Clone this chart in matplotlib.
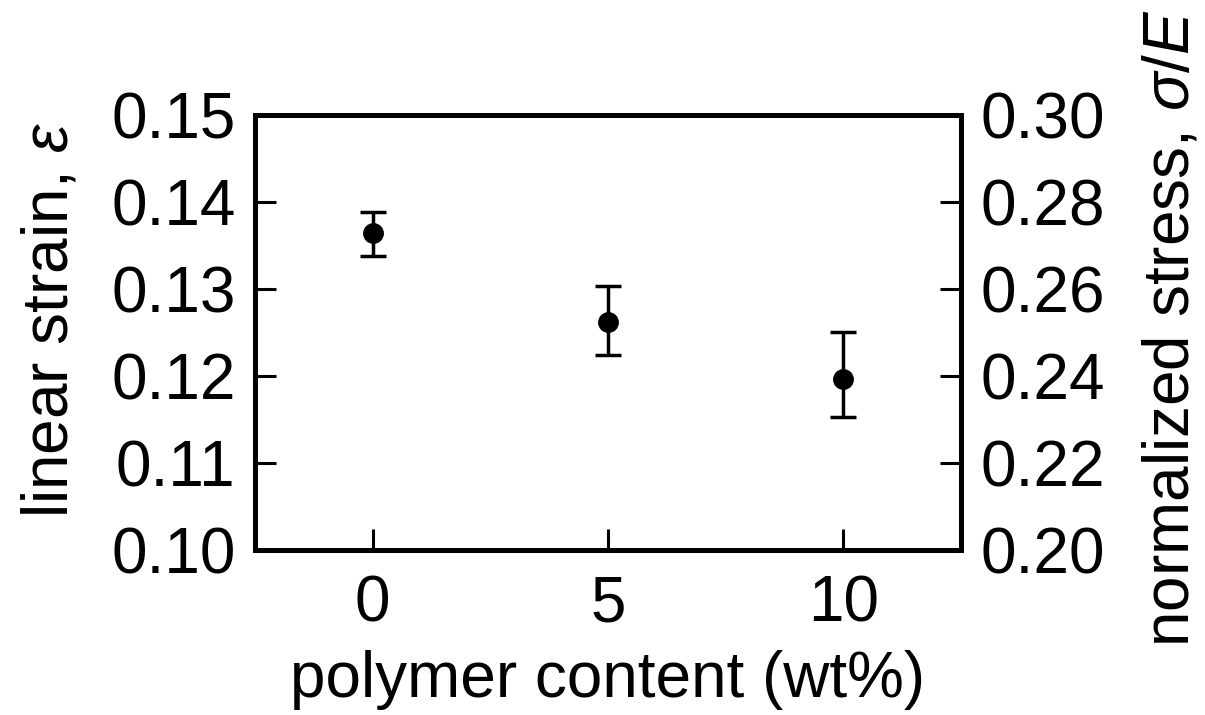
import matplotlib
matplotlib.use("Agg")
import matplotlib.pyplot as plt

plt.rcParams['font.family'] = ['Liberation Sans', 'DejaVu Sans']
plt.rcParams['mathtext.fontset'] = 'custom'
plt.rcParams['mathtext.it'] = 'Liberation Sans:italic'
plt.rcParams['mathtext.rm'] = 'Liberation Sans'

# data
polymer_content = [0, 5, 10]
strain = [0.1364, 0.1262, 0.1197]
err_low = [0.0026, 0.0038, 0.0044]
err_high = [0.0025, 0.0041, 0.0053]
x_ticks = [0, 5, 10]
left_ticks = [0.10, 0.11, 0.12, 0.13, 0.14, 0.15]
right_ticks = [0.20, 0.22, 0.24, 0.26, 0.28, 0.30]

fig = plt.figure(figsize=(12.05, 7.15), dpi=100)
ax = fig.add_axes([0.2116, 0.231, 0.586, 0.608])

ax.errorbar(polymer_content, strain, yerr=[err_low, err_high], fmt='o',
            color='black', markersize=14, elinewidth=2.5, capsize=9.5,
            capthick=2.5)

ax.set_xlim(-2.5, 12.5)
ax.set_ylim(0.10, 0.15)
ax.set_xticks(x_ticks)
ax.set_xticklabels([str(v) for v in x_ticks])
ax.set_yticks(left_ticks)
ax.set_yticklabels([f"{v:.2f}" for v in left_ticks])

for s in ax.spines.values():
    s.set_linewidth(3.6)

ax.tick_params(axis='both', direction='in', labelsize=46, width=2.2,
               length=15, pad=14)
ax.tick_params(axis='x', pad=18, top=False)

ax2 = ax.twinx()
ax2.set_ylim(0.20, 0.30)
ax2.set_yticks(right_ticks)
ax2.set_yticklabels([f"{v:.2f}" for v in right_ticks])
ax2.tick_params(axis='y', direction='in', labelsize=46, width=2.2,
                length=15, pad=14)
for s in ax2.spines.values():
    s.set_linewidth(3.6)

xl = ax.set_xlabel('polymer content (wt%)', fontsize=46)
yl = ax.set_ylabel(r'linear strain, $\varepsilon$', fontsize=46)
yr = ax2.set_ylabel(r'normalized stress, $\sigma/E$', fontsize=46,
                    rotation=90)
for lab in (xl, yl, yr):
    lab.set_va('center')
    lab.set_ha('center')
ax.xaxis.set_label_coords(0.5, -0.30)
ax.yaxis.set_label_coords(-0.29, 0.53)
ax2.yaxis.set_label_coords(1.298, 0.51)

fig.savefig('out.png', dpi=100, facecolor='white')
